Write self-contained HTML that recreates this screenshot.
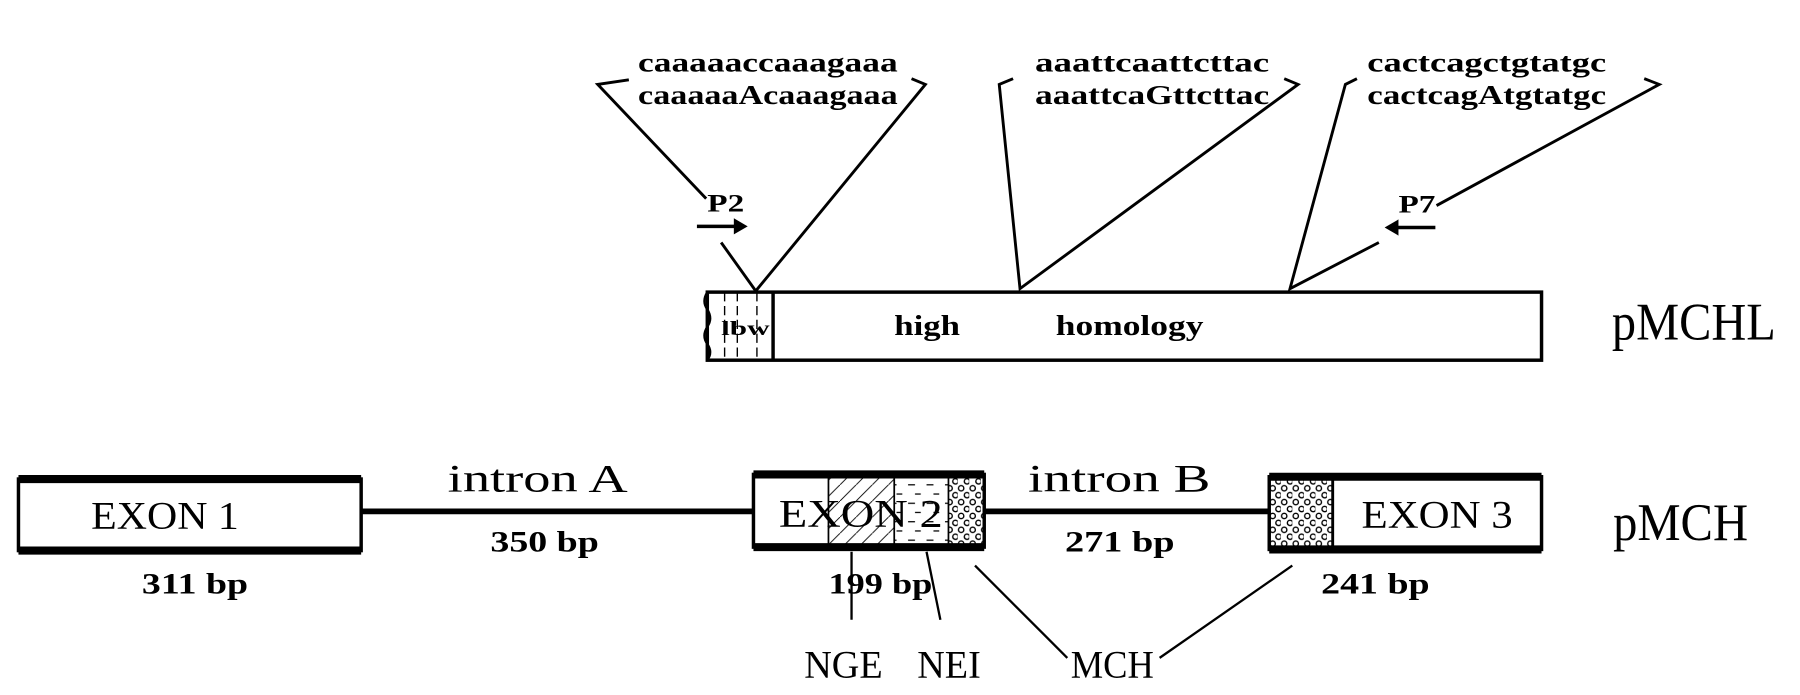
<!DOCTYPE html>
<html><head><style>html,body{margin:0;padding:0;background:#fff}svg{display:block}</style></head>
<body>
<svg width="1800" height="695" viewBox="0 0 1560 602" xmlns="http://www.w3.org/2000/svg" font-family="Liberation Serif, serif">
<defs>
<pattern id="dots" width="10" height="12" patternUnits="userSpaceOnUse"><circle cx="3" cy="3" r="2.3" fill="none" stroke="#000" stroke-width="1.2"/><circle cx="8" cy="9" r="2.3" fill="none" stroke="#000" stroke-width="1.2"/></pattern>
<pattern id="hatch" width="14" height="14" patternUnits="userSpaceOnUse"><path d="M0,14 L14,0" stroke="#000" stroke-width="0.8"/></pattern>
<pattern id="dash" width="16" height="16" patternUnits="userSpaceOnUse"><path d="M3,4 h6 M9,12 h5" stroke="#000" stroke-width="1"/></pattern>
</defs>
<g fill="none" stroke="#000" stroke-width="2.5">
<rect x="613" y="253" width="723" height="59" stroke-width="3"/>
<path d="M670,253 V312" stroke-width="3"/>
<path d="M613,253 q-5,8 0,15 q5,8 0,15 q-5,8 0,15 q5,7 0,14" stroke-width="2"/>
<path d="M628,253 V312 M639,253 V312 M656,253 V312" stroke-width="1.2" stroke-dasharray="8,4"/>
<path d="M545,69 L518,73 L612,172 M625,210 L655,252 L802,73 L790,68"/>
<path d="M878,68 L866,73 L884,250 L1125,73 L1113,68"/>
<path d="M1176,68 L1166,73 L1118,250 L1195,210 M1245,178 L1438,73 L1425,68"/>
<path d="M604,196 H640" stroke-width="3"/>
<path d="M1210,197 H1244" stroke-width="3"/>
</g>
<path d="M648,196 L636,189 L636,203 Z"/>
<path d="M1200,197 L1212,190 L1212,204 Z"/>
<g font-weight="bold" font-size="24" font-family="Liberation Serif, serif">
<text x="553" y="62" textLength="225" lengthAdjust="spacingAndGlyphs">caaaaaccaaagaaa</text>
<text x="553" y="90" textLength="225" lengthAdjust="spacingAndGlyphs">caaaaaAcaaagaaa</text>
<text x="897" y="62" textLength="203" lengthAdjust="spacingAndGlyphs">aaattcaattcttac</text>
<text x="897" y="90" textLength="203" lengthAdjust="spacingAndGlyphs">aaattcaGttcttac</text>
<text x="1185" y="62" textLength="207" lengthAdjust="spacingAndGlyphs">cactcagctgtatgc</text>
<text x="1185" y="90" textLength="207" lengthAdjust="spacingAndGlyphs">cactcagAtgtatgc</text>
<text x="613" y="183" font-size="22" textLength="32" lengthAdjust="spacingAndGlyphs">P2</text>
<text x="1212" y="184" font-size="22" textLength="32" lengthAdjust="spacingAndGlyphs">P7</text>
<text x="775" y="290" font-size="25" textLength="57" lengthAdjust="spacingAndGlyphs">high</text>
<text x="915" y="290" font-size="25" textLength="128" lengthAdjust="spacingAndGlyphs">homology</text>
<text x="625" y="290" font-size="17" textLength="42" lengthAdjust="spacingAndGlyphs">lbw</text>
</g>
<text x="1397" y="294" font-size="46" textLength="142" lengthAdjust="spacingAndGlyphs">pMCHL</text>
<g stroke="#000" fill="none">
<path d="M313,443 H652 M853,443 H1100" stroke-width="5"/>
<rect x="16" y="415" width="297" height="62" stroke-width="3"/>
<path d="M16,415 H313 M16,477 H313" stroke-width="7"/>
<rect x="718" y="412" width="57" height="61" fill="url(#hatch)" stroke="none"/>
<rect x="775" y="412" width="47" height="61" fill="url(#dash)" stroke="none"/>
<rect x="822" y="412" width="31" height="61" fill="url(#dots)" stroke="none"/>
<path d="M718,412 V473 M775,412 V473 M822,412 V473" stroke-width="1.5"/>
<rect x="653" y="411" width="200" height="63" stroke-width="3"/>
<path d="M653,411 H853 M653,474 H853" stroke-width="7"/>
<rect x="1100" y="413" width="55" height="63" fill="url(#dots)" stroke="none"/>
<path d="M1155,413 V476" stroke-width="2.5"/>
<rect x="1100" y="413" width="236" height="63" stroke-width="3"/>
<path d="M1100,413 H1336 M1100,476 H1336" stroke-width="7"/>
<path d="M738,478 V537 M803,478 L815,537 M845,490 L925,570 M1120,490 L1005,570" stroke-width="2"/>
</g>
<g font-size="34">
<text x="79" y="458" textLength="128" lengthAdjust="spacingAndGlyphs">EXON 1</text>
<text x="675" y="456" textLength="142" lengthAdjust="spacingAndGlyphs">EXON 2</text>
<text x="1180" y="457" textLength="131" lengthAdjust="spacingAndGlyphs">EXON 3</text>
<text x="388" y="426" textLength="156" lengthAdjust="spacingAndGlyphs">intron A</text>
<text x="891" y="426" textLength="158" lengthAdjust="spacingAndGlyphs">intron B</text>
<text x="697" y="587" textLength="68" lengthAdjust="spacingAndGlyphs">NGE</text>
<text x="795" y="587" textLength="55" lengthAdjust="spacingAndGlyphs">NEI</text>
<text x="928" y="587" textLength="72" lengthAdjust="spacingAndGlyphs">MCH</text>
</g>
<text x="1398" y="468" font-size="46" textLength="117" lengthAdjust="spacingAndGlyphs">pMCH</text>
<g font-weight="bold" font-size="26">
<text x="123" y="514" textLength="92" lengthAdjust="spacingAndGlyphs">311 bp</text>
<text x="425" y="478" textLength="94" lengthAdjust="spacingAndGlyphs">350 bp</text>
<text x="923" y="478" textLength="95" lengthAdjust="spacingAndGlyphs">271 bp</text>
<text x="718" y="514" textLength="90" lengthAdjust="spacingAndGlyphs">199 bp</text>
<text x="1145" y="514" textLength="94" lengthAdjust="spacingAndGlyphs">241 bp</text>
</g>
</svg>
</body></html>
